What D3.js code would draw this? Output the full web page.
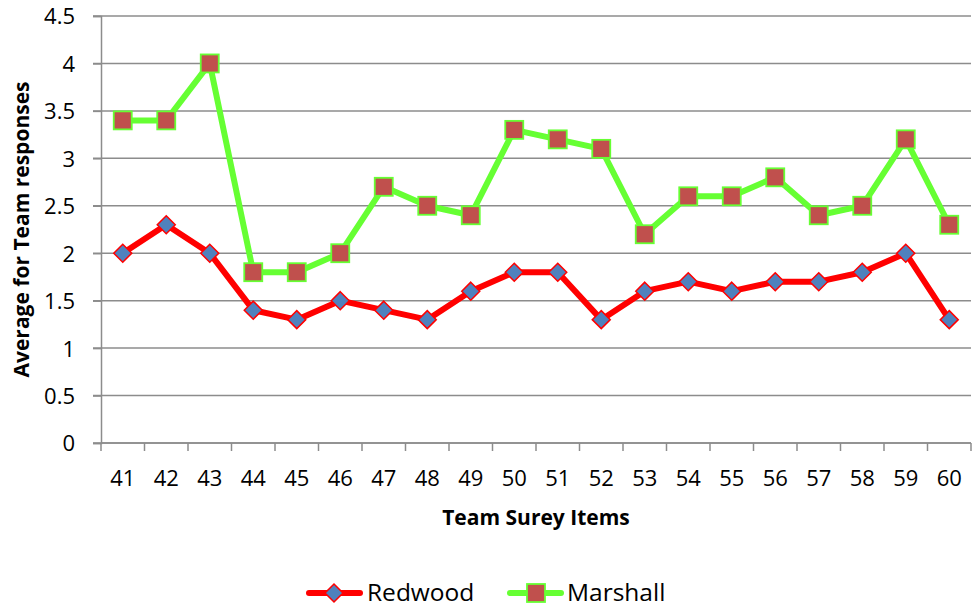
<!DOCTYPE html>
<html>
<head>
<meta charset="utf-8">
<script src="https://cdn.jsdelivr.net/npm/d3@7"></script>
<style>
  html, body { margin: 0; padding: 0; background: #fff; }
  svg { display: block; font-family: "Open Sans", "Noto Sans", sans-serif; }
</style>
</head>
<body>
<svg id="chart" width="974" height="607"></svg>
<script>
// Survey items and average team responses
const items = ["41","42","43","44","45","46","47","48","49","50","51","52","53","54","55","56","57","58","59","60"];
const redwood = [2, 2.3, 2, 1.4, 1.3, 1.5, 1.4, 1.3, 1.6, 1.8, 1.8, 1.3, 1.6, 1.7, 1.6, 1.7, 1.7, 1.8, 2, 1.3];
const marshall = [3.4, 3.4, 4, 1.8, 1.8, 2, 2.7, 2.5, 2.4, 3.3, 3.2, 3.1, 2.2, 2.6, 2.6, 2.8, 2.4, 2.5, 3.2, 2.3];
const yTicks = [0, 0.5, 1, 1.5, 2, 2.5, 3, 3.5, 4, 4.5];

const svg = d3.select("#chart");
const margin = { left: 101, right: 3, top: 16, bottom: 164 };
const W = 974, H = 607;
const x = d3.scaleBand().domain(items).range([margin.left, W - margin.right]);
const y = d3.scaleLinear().domain([0, 4.5]).range([H - margin.bottom, margin.top]);
const axisColor = "#8c8c8c";

// Horizontal gridlines
svg.append("g").selectAll("line").data(yTicks).join("line")
  .attr("x1", margin.left - 8).attr("x2", W - margin.right)
  .attr("y1", d => y(d)).attr("y2", d => y(d))
  .attr("stroke", axisColor).attr("stroke-width", 1.5);

// Y axis
const yAxis = svg.append("g").attr("transform", `translate(${margin.left},0)`)
  .call(d3.axisLeft(y).tickValues(yTicks).tickSize(8).tickFormat(d => String(d)));
yAxis.attr("font-family", null).attr("font-size", null);
yAxis.select(".domain").attr("stroke", axisColor).attr("stroke-width", 1.5);
yAxis.selectAll(".tick line").attr("stroke", axisColor).attr("stroke-width", 1.5);
yAxis.selectAll("text").attr("x", -26).attr("dy", "0.36em")
  .attr("font-size", 22).attr("fill", "#000");

// X axis with tick marks on category boundaries
const xAxisG = svg.append("g").attr("transform", `translate(0,${y(0)})`);
xAxisG.append("line").attr("x1", margin.left).attr("x2", W - margin.right)
  .attr("stroke", axisColor).attr("stroke-width", 1.5);
const bounds = items.map(d => x(d)).concat([x(items[items.length - 1]) + x.bandwidth()]);
xAxisG.selectAll("line.tk").data(bounds).join("line").attr("class", "tk")
  .attr("x1", d => d).attr("x2", d => d).attr("y1", 0).attr("y2", 8)
  .attr("stroke", axisColor).attr("stroke-width", 1.5);
xAxisG.selectAll("text").data(items).join("text")
  .attr("x", d => x(d) + x.bandwidth() / 2).attr("y", 43)
  .attr("text-anchor", "middle").attr("font-size", 22).attr("fill", "#000")
  .text(d => d);

// Axis titles
svg.append("text").attr("x", (margin.left + W - margin.right) / 2).attr("y", 525)
  .attr("text-anchor", "middle").attr("font-size", 21).attr("font-weight", "bold")
  .text("Team Surey Items");
svg.append("text").attr("transform", `translate(29,${(y(0) + y(4.5)) / 2}) rotate(-90)`)
  .attr("text-anchor", "middle").attr("font-size", 21).attr("font-weight", "bold")
  .text("Average for Team responses");

const cx = d => x(d) + x.bandwidth() / 2;
const line = d3.line().x((d, i) => cx(items[i])).y(d => y(d));

// Redwood series
svg.append("path").datum(redwood).attr("d", line)
  .attr("fill", "none").attr("stroke", "#ff0000").attr("stroke-width", 6).attr("stroke-linejoin", "round");
// Marshall series
svg.append("path").datum(marshall).attr("d", line)
  .attr("fill", "none").attr("stroke", "#66ff33").attr("stroke-width", 6).attr("stroke-linejoin", "round");

const diamond = "M0,-9L9,0L0,9L-9,0Z";
svg.append("g").selectAll("path").data(redwood).join("path")
  .attr("d", diamond)
  .attr("transform", (d, i) => `translate(${cx(items[i])},${y(d)})`)
  .attr("fill", "#4f81bd").attr("stroke", "#ff0000").attr("stroke-width", 1.5);

svg.append("g").selectAll("rect").data(marshall).join("rect")
  .attr("x", (d, i) => cx(items[i]) - 9).attr("y", d => y(d) - 9)
  .attr("width", 18).attr("height", 18)
  .attr("fill", "#c0504d").attr("stroke", "#66ff33").attr("stroke-width", 1.8);

// Legend
const legend = svg.append("g").attr("transform", "translate(0,593)");
legend.append("line").attr("x1", 309).attr("x2", 360).attr("stroke", "#ff0000").attr("stroke-width", 6).attr("stroke-linecap", "round");
legend.append("path").attr("d", diamond).attr("transform", "translate(334,0)")
  .attr("fill", "#4f81bd").attr("stroke", "#ff0000").attr("stroke-width", 1.5);
legend.append("text").attr("x", 367).attr("y", 8).attr("font-size", 24.5).text("Redwood");
legend.append("line").attr("x1", 510).attr("x2", 561).attr("stroke", "#66ff33").attr("stroke-width", 6).attr("stroke-linecap", "round");
legend.append("rect").attr("x", 527).attr("y", -9).attr("width", 18).attr("height", 18)
  .attr("fill", "#c0504d").attr("stroke", "#66ff33").attr("stroke-width", 1.8);
legend.append("text").attr("x", 567).attr("y", 8).attr("font-size", 24.5).text("Marshall");
</script>
</body>
</html>
